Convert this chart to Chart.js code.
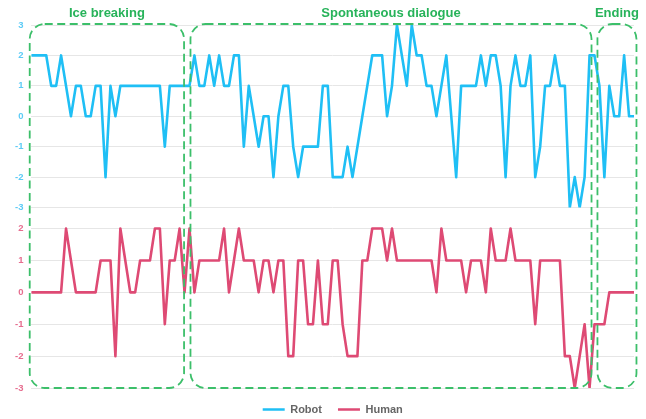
<!DOCTYPE html>
<html>
<head>
<meta charset="utf-8">
<script src="https://cdn.jsdelivr.net/npm/chart.js@4"></script>
<style>
  html, body { margin: 0; padding: 0; background: #fff; }
  #wrap { width: 646px; height: 419px; }
</style>
</head>
<body>
<div id="wrap"><canvas id="myChart"></canvas></div>
<script>
// valeurs (une valeur par tour de parole)
const robot = [2, 2, 2, 2, 1, 1, 2, 1, 0, 1, 1, 0, 0, 1, 1, -2, 1, 0, 1, 1,
  1, 1, 1, 1, 1, 1, 1, -1, 1, 1, 1, 1, 1, 2, 1, 1, 2, 1, 2, 1,
  1, 2, 2, -1, 1, 0, -1, 0, 0, -2, 0, 1, 1, -1, -2, -1, -1, -1, -1, 1,
  1, -2, -2, -2, -1, -2, -1, 0, 1, 2, 2, 2, 0, 1, 3, 2, 1, 3, 2, 2,
  1, 1, 0, 1, 2, 0, -2, 1, 1, 1, 1, 2, 1, 2, 2, 1, -2, 1, 2, 1,
  1, 2, -2, -1, 1, 1, 2, 1, 1, -3, -2, -3, -2, 2, 2, 1, -2, 1, 0, 0,
  2, 0, 0];

const human = [0, 0, 0, 0, 0, 0, 0, 2, 1, 0, 0, 0, 0, 0, 1, 1, 1, -2, 2, 1,
  0, 0, 1, 1, 1, 2, 2, -1, 1, 1, 2, 0, 2, 0, 1, 1, 1, 1, 1, 2,
  0, 1, 2, 1, 1, 1, 0, 1, 1, 0, 1, 1, -2, -2, 1, 1, -1, -1, 1, -1,
  -1, 1, 1, -1, -2, -2, -2, 1, 1, 2, 2, 2, 1, 2, 1, 1, 1, 1, 1, 1,
  1, 1, 0, 2, 1, 1, 1, 1, 0, 1, 1, 1, 0, 2, 1, 1, 1, 2, 1, 1,
  1, 1, -1, 1, 1, 1, 1, 1, -2, -2, -3, -2, -1, -3, -1, -1, -1, 0, 0, 0,
  0, 0, 0];

// phases de l'échange (bornes en indices de tour)
const phaseNames = ["Ice breaking", "Spontaneous dialogue", "Ending"];
const phaseStart = [-0.35, 32.2, 114.6];
const phaseEnd = [30.9, 113.4, 122.5];

// graduations des deux axes
const robotTicks = [3, 2, 1, 0, -1, -2, -3];
const humanTicks = [2, 1, 0, -1, -2, -3];

let labels = [];
for (let i = 0; i < robot.length; ++i) {
  labels.push(i.toString());
}

const green = "#3cbf6a";

// cadres pointillés + titres des phases
const phasesPlugin = {
  id: "phases",
  afterDatasetsDraw(chart) {
    const ctx = chart.ctx;
    const x = chart.scales.x;
    const yTop = chart.scales.y.top - 1;
    const yBot = chart.scales.y2.bottom;
    ctx.save();
    for (let i = 0; i < phaseNames.length; i++) {
      const x0 = x.getPixelForValue(phaseStart[i]);
      const x1 = x.getPixelForValue(phaseEnd[i]);
      ctx.beginPath();
      ctx.roundRect(x0, yTop, x1 - x0, yBot - yTop, 15);
      ctx.setLineDash([8, 4.5]);
      ctx.lineWidth = 1.8;
      ctx.strokeStyle = green;
      ctx.stroke();
      ctx.setLineDash([]);
      ctx.fillStyle = "#27b35a";
      ctx.font = "bold 13px 'Liberation Sans', Arial, sans-serif";
      ctx.textAlign = "center";
      ctx.textBaseline = "middle";
      ctx.fillText(phaseNames[i], (x0 + x1) / 2, yTop - 11);
    }
    ctx.restore();
  }
};

const data = {
  labels: labels,
  datasets: [
    {
      label: "Robot",
      data: robot,
      yAxisID: "y",
      borderColor: "#1fbff5",
      backgroundColor: "#1fbff5",
      borderWidth: 2.6,
      borderJoinStyle: "round",
      pointRadius: 0,
      tension: 0,
    },
    {
      label: "Human",
      data: human,
      yAxisID: "y2",
      borderColor: "#de4a74",
      backgroundColor: "#de4a74",
      borderWidth: 2.6,
      borderJoinStyle: "round",
      pointRadius: 0,
      tension: 0,
    },
  ],
};

const tickFont = { family: "'Liberation Sans', Arial, sans-serif", size: 9.5, weight: "bold" };

// les axes à gauche sont empilés dans l'ordre inverse : y2 (Human) d'abord => en bas
const config = {
  type: "line",
  data: data,
  plugins: [phasesPlugin],
  options: {
    responsive: true,
    maintainAspectRatio: false,
    animation: false,
    layout: { padding: { top: 25, left: 7, right: 12, bottom: -6 } },
    plugins: {
      tooltip: { enabled: false },
      legend: {
        position: "bottom",
        fullSize: false,
        labels: {
          usePointStyle: true,
          pointStyle: "line",
          pointStyleWidth: 22,
          color: "#666",
          padding: 16,
          font: { family: "'Liberation Sans', Arial, sans-serif", size: 11, weight: "bold" },
        },
      },
    },
    scales: {
      x: {
        display: false,
        offset: false,
      },
      y2: {
        stack: "panels",
        stackWeight: 180,
        position: "left",
        min: -3,
        max: 2.66,
        border: { display: false },
        grid: { color: "#e6e6e6", drawTicks: false },
        afterBuildTicks: (s) => { s.ticks = humanTicks.map((v) => ({ value: v })); },
        ticks: { color: "#e66d8f", font: tickFont, padding: 8 },
      },
      y: {
        stack: "panels",
        stackWeight: 182,
        position: "left",
        min: -3,
        max: 3,
        border: { display: false },
        grid: { color: "#e6e6e6", drawTicks: false },
        afterBuildTicks: (s) => { s.ticks = robotTicks.map((v) => ({ value: v })); },
        ticks: { color: "#5ccbf6", font: tickFont, padding: 8 },
      },
    },
  },
};

const context = document.getElementById("myChart").getContext("2d");
const chart = new Chart(context, config);
</script>
</body>
</html>
